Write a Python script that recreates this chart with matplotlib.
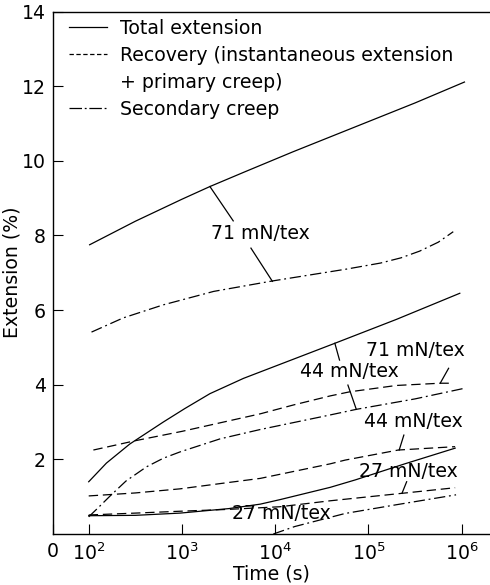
import numpy as np
import matplotlib
matplotlib.use('Agg')
import matplotlib.pyplot as plt
from matplotlib.lines import Line2D

plt.rcParams['font.family'] = ['DejaVu Sans']
plt.rcParams['font.size'] = 13.6
plt.rcParams['mathtext.fontset'] = 'dejavusans'

# time given as log10(seconds), extension in %
# 71 mN/tex
logt_total_71 = [2.01, 2.5, 3.0, 3.3, 3.68, 4.19, 4.75, 5.0, 5.5, 6.03]
ext_total_71 = [7.75, 8.38, 8.97, 9.31, 9.71, 10.24, 10.8, 11.05, 11.55, 12.11]
logt_sec_71 = [2.03, 2.37, 2.8, 3.34, 3.97, 4.77, 5.13, 5.35, 5.55, 5.75, 5.91]
ext_sec_71 = [5.41, 5.79, 6.14, 6.5, 6.78, 7.1, 7.26, 7.4, 7.58, 7.82, 8.10]
logt_rec_71 = [2.05, 2.5, 3.0, 3.59, 3.84, 4.2, 4.59, 4.8, 5.3, 5.77, 5.9]
ext_rec_71 = [2.25, 2.5, 2.75, 3.08, 3.22, 3.46, 3.7, 3.81, 3.98, 4.04, 4.04]

# 44 mN/tex
logt_total_44 = [2.0, 2.19, 2.44, 2.8, 3.03, 3.3, 3.66, 4.64, 5.3, 5.98]
ext_total_44 = [1.40, 1.9, 2.41, 3.0, 3.36, 3.76, 4.17, 5.11, 5.75, 6.45]
logt_sec_44 = [2.0, 2.1, 2.23, 2.4, 2.62, 2.8, 2.98, 3.41, 3.84, 4.59, 4.87, 5.5, 6.04]
ext_sec_44 = [0.46, 0.7, 1.02, 1.42, 1.8, 2.03, 2.2, 2.55, 2.8, 3.19, 3.34, 3.62, 3.91]
logt_rec_44 = [2.0, 2.5, 2.98, 3.5, 3.84, 4.59, 4.75, 5.32, 5.93]
ext_rec_44 = [1.02, 1.1, 1.21, 1.38, 1.49, 1.88, 1.98, 2.25, 2.34]

# 27 mN/tex
logt_total_27 = [2.0, 2.5, 2.98, 3.5, 3.84, 4.05, 4.59, 4.86, 5.39, 5.93]
ext_total_27 = [0.49, 0.5, 0.56, 0.68, 0.8, 0.92, 1.25, 1.45, 1.88, 2.30]
logt_sec_27 = [3.98, 4.21, 4.75, 5.29, 5.94]
ext_sec_27 = [0.0, 0.2, 0.55, 0.78, 1.05]
logt_rec_27 = [2.0, 2.5, 2.98, 3.5, 4.05, 4.59, 5.36, 5.93]
ext_rec_27 = [0.51, 0.56, 0.61, 0.66, 0.73, 0.89, 1.09, 1.24]

tick_pos = [1.617, 2, 3, 4, 5, 6]
tick_labels = ['0', '$10^2$', '$10^3$', '$10^4$', '$10^5$', '$10^6$']

LW = 0.9
solid = dict(color='black', lw=LW, ls='-')
dashed = dict(color='black', lw=LW, ls=(0, (7.5, 3.8)))
dashdot = dict(color='black', lw=LW, ls=(0, (9, 3, 1.5, 3)))

fig = plt.figure(figsize=(4.9, 5.85), dpi=100)
ax = fig.add_axes([53 / 490, 51 / 585, 437 / 490, 522.5 / 585])
ax.set_xscale('log')


def curve(logt, ext, style):
    ax.plot(10 ** np.array(logt), ext, **style)


curve(logt_total_71, ext_total_71, solid)
curve(logt_sec_71, ext_sec_71, dashdot)
curve(logt_rec_71, ext_rec_71, dashed)
curve(logt_total_44, ext_total_44, solid)
curve(logt_sec_44, ext_sec_44, dashdot)
curve(logt_rec_44, ext_rec_44, dashed)
curve(logt_total_27, ext_total_27, solid)
curve(logt_sec_27, ext_sec_27, dashdot)
curve(logt_rec_27, ext_rec_27, dashed)

# stress labels with leader lines (log t, extension)
labels = [
    ('71 mN/tex', 3.84, 8.06, [((3.30, 9.31), (3.55, 8.39)), ((3.74, 7.66), (3.97, 6.77))]),
    ('71 mN/tex', 5.50, 4.93, [((5.86, 4.44), (5.77, 4.04))]),
    ('44 mN/tex', 4.80, 4.35, [((4.64, 5.11), (4.69, 4.66)), ((4.78, 3.99), (4.87, 3.34))]),
    ('44 mN/tex', 5.48, 3.01, [((5.38, 2.65), (5.33, 2.25))]),
    ('27 mN/tex', 5.43, 1.67, [((5.41, 1.40), (5.36, 1.09))]),
    ('27 mN/tex', 4.07, 0.54, []),
]
for text, lx, ly, leaders in labels:
    ax.text(10 ** lx, ly, text, ha='center', va='center')
    for (x0, y0), (x1, y1) in leaders:
        ax.plot([10 ** x0, 10 ** x1], [y0, y1], color='black', lw=LW)

ax.set_xlim(10 ** 1.617, 10 ** 6.304)
ax.set_ylim(0, 14)
ax.set_xticks([10 ** p for p in tick_pos])
ax.set_xticklabels(tick_labels)
ax.xaxis.set_minor_locator(matplotlib.ticker.NullLocator())
ax.set_yticks([2, 4, 6, 8, 10, 12, 14])
ax.tick_params(direction='in', length=7.5, width=0.8, pad=5)
ax.tick_params(axis='x', pad=6)

ax.spines['right'].set_visible(False)
for s in ['left', 'bottom', 'top']:
    ax.spines[s].set_linewidth(1.0)

ax.set_xlabel('Time (s)')
ax.set_ylabel('Extension (%)')
ax.xaxis.set_label_coords(0.5, -0.058)
ax.yaxis.set_label_coords(-0.072, 0.5)

# second line of the recovery entry gets an empty handle
handles = [
    Line2D([], [], color='black', lw=LW, ls='-'),
    Line2D([], [], color='black', lw=LW, ls=(0, (3.5, 2))),
    Line2D([], [], color='none', lw=0),
    Line2D([], [], color='black', lw=LW, ls=(0, (10, 2.2, 1.5, 2.2))),
]
names = ['Total extension',
         'Recovery (instantaneous extension',
         '+ primary creep)',
         'Secondary creep']
ax.legend(handles, names, loc='upper left', bbox_to_anchor=(0.02, 1.0),
          frameon=False, handlelength=2.0, handletextpad=0.7,
          labelspacing=0.42, borderaxespad=0.15, borderpad=0.25)

fig.savefig('out.png', dpi=100)
